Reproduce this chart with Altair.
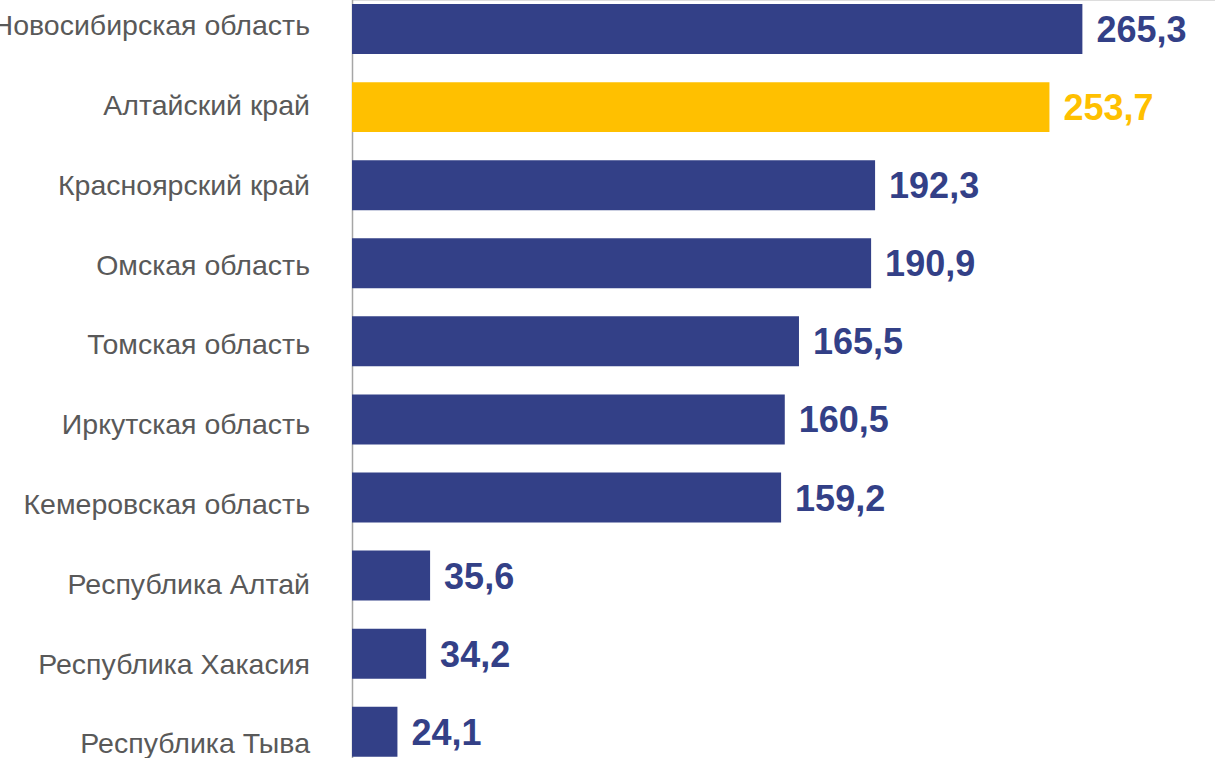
import altair as alt
import pandas as pd

regions = ["Новосибирская область", "Алтайский край", "Красноярский край", "Омская область",
           "Томская область", "Иркутская область", "Кемеровская область", "Республика Алтай",
           "Республика Хакасия", "Республика Тыва"]
values = [265.3, 253.7, 192.3, 190.9, 165.5, 160.5, 159.2, 35.6, 34.2, 24.1]
labels = ["265,3", "253,7", "192,3", "190,9", "165,5", "160,5", "159,2", "35,6", "34,2", "24,1"]
highlight = ["Алтайский край"]

df = pd.DataFrame({"region": regions, "value": values, "label": labels})
df["hl"] = df["region"].isin(highlight).map({True: "yes", False: "no"})

NAVY = "#334087"
YELLOW = "#FFC000"

bar_scale = alt.Scale(range=[-10, 770.8], paddingInner=0.36, paddingOuter=0.18)
label_scale = alt.Scale(range=[-14.6, 783.2], paddingInner=0.36, paddingOuter=0.18)

x = alt.X("value:Q", title=None,
          scale=alt.Scale(domain=[8.1, 312], zero=False, nice=False),
          axis=None)
color = alt.Color("hl:N", scale=alt.Scale(domain=["no", "yes"], range=[NAVY, YELLOW]), legend=None)

bars = alt.Chart(df).mark_bar(clip=True).encode(
    y=alt.Y("region:N", sort=regions, title=None, scale=bar_scale,
            axis=alt.Axis(labels=False, ticks=False, domainColor="#A6A6A6", domainWidth=1.5)),
    x=x, x2=alt.datum(0), color=color)

text = alt.Chart(df).mark_text(align="left", baseline="middle", dx=14, dy=2,
                               font="Liberation Sans", fontSize=36, fontWeight="bold").encode(
    y=alt.Y("region:N", sort=regions, scale=bar_scale),
    x=alt.X("value:Q"), text="label:N", color=color)

inner = alt.layer(bars, text)

names = alt.Chart(df).mark_text(align="right", baseline="middle", dy=1,
                                font="Liberation Sans", fontSize=28.5, color="#595959").encode(
    y=alt.Y("region:N", sort=regions, scale=label_scale, axis=None),
    x=alt.value(-42), text="region:N")

chart = alt.layer(inner, names).resolve_scale(y="independent").properties(
    width=863, height=758,
    autosize=alt.AutoSizeParams(type="none"),
    padding={"left": 352, "top": 0, "right": 0, "bottom": 0},
).configure_view(stroke=None).configure(background="white")

chart.save("out.html", embed_options={"renderer": "svg", "actions": False})
